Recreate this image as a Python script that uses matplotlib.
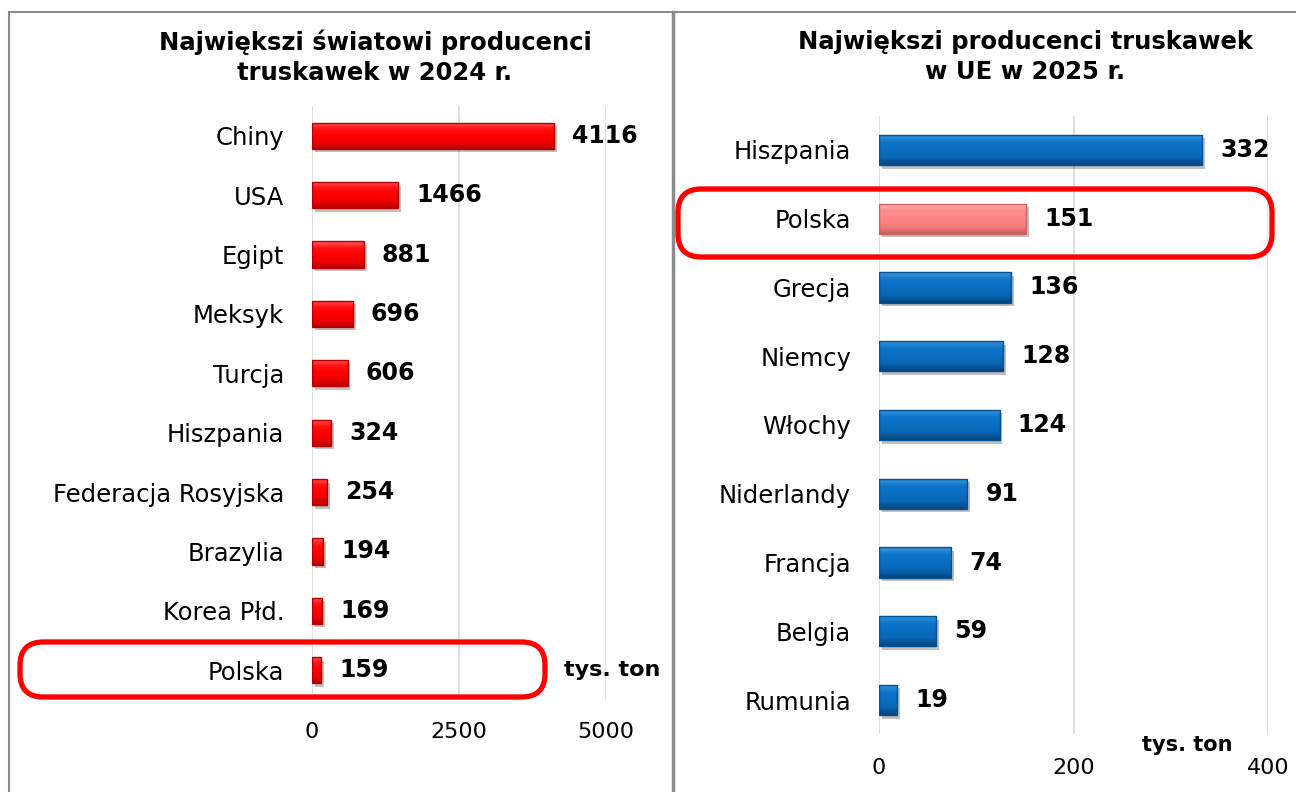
import matplotlib
matplotlib.use("Agg")
import matplotlib.pyplot as plt
import matplotlib.patheffects as pe
import numpy as np
from matplotlib.patches import FancyBboxPatch
from matplotlib.lines import Line2D
from matplotlib.colors import LinearSegmentedColormap

plt.rcParams['font.family'] = ['DejaVu Sans']

# dane - swiat 2024
kraje_swiat = ['Chiny', 'USA', 'Egipt', 'Meksyk', 'Turcja', 'Hiszpania',
               'Federacja Rosyjska', 'Brazylia', 'Korea Płd.', 'Polska']
prod_swiat = [4116, 1466, 881, 696, 606, 324, 254, 194, 169, 159]
ticks_swiat = [0, 2500, 5000]

# dane - UE 2025
kraje_ue = ['Hiszpania', 'Polska', 'Grecja', 'Niemcy', 'Włochy',
            'Niderlandy', 'Francja', 'Belgia', 'Rumunia']
prod_ue = [332, 151, 136, 128, 124, 91, 74, 59, 19]
ticks_ue = [0, 200, 400]

W, H = 1296, 792
fig = plt.figure(figsize=(W / 100, H / 100), dpi=100)

def px(x, y):
    # piksele -> ulamek figury
    return x / W, 1 - y / H

tick_font = ['Liberation Sans Narrow', 'DejaVu Sans']

# gradienty (gora jasniej, dol ciemniej)
cm_red = LinearSegmentedColormap.from_list(
    'r', ['#ff5a5a', '#ff1010', '#ff0000', '#f00000', '#b80000'])
cm_blue = LinearSegmentedColormap.from_list(
    'b', ['#3d95dc', '#0d74c8', '#0a6fc2', '#0866b4', '#04457f'])
cm_pink = LinearSegmentedColormap.from_list(
    'p', ['#ffb0b0', '#ff8c8c', '#ff8585', '#f57c7c', '#c86060'])
grad = np.linspace(0, 1, 64).reshape(-1, 1)

def rysuj(ax, kraje, wart, ticks, cmaps, brzegi, xmax, pad_x):
    y = list(range(len(kraje)))
    shadow = [pe.SimplePatchShadow(offset=(2, -2.5), alpha=0.35), pe.Normal()]
    bars = ax.barh(y, wart, height=0.44, color='none', edgecolor=brzegi,
                   linewidth=1.0, zorder=4)
    for bar, cmap in zip(bars, cmaps):
        x0, y0 = bar.get_x(), bar.get_y()
        w, h = bar.get_width(), bar.get_height()
        # cien pod slupkiem
        sh = ax.barh(y0 + h / 2, w, height=h, color='white', linewidth=0,
                     zorder=2)[0]
        sh.set_path_effects(shadow)
        im = ax.imshow(grad, cmap=cmap, aspect='auto', zorder=3,
                       extent=(x0, x0 + w, y0 + h, y0), interpolation='bicubic')
        im.set_clip_path(bar)
    for i, v in enumerate(wart):
        ax.annotate(str(v), (v, i), xytext=(13, 0), textcoords='offset points',
                    va='center', ha='left', fontsize=17, fontweight='bold',
                    color='black', zorder=5)
    ax.set_yticks(y)
    ax.set_yticklabels(kraje, fontsize=17.5)
    ax.set_xticks(ticks)
    ax.set_xticklabels([str(t) for t in ticks], fontsize=16, family=tick_font)
    ax.set_xlim(0, xmax)
    ax.set_ylim(len(kraje) - 0.5, -0.5)
    ax.set_aspect('auto')
    ax.tick_params(axis='y', length=0, pad=20)
    ax.tick_params(axis='x', length=0, pad=pad_x)
    ax.grid(axis='x', color='#d9d9d9', linewidth=1.2, zorder=0)
    ax.set_axisbelow(True)
    for s in ax.spines.values():
        s.set_visible(False)

# lewy wykres
l, t = px(312, 106)
r, b = px(606, 700)
ax1 = fig.add_axes([l, b, r - l, t - b])
rysuj(ax1, kraje_swiat, prod_swiat, ticks_swiat, [cm_red] * len(kraje_swiat),
      '#b00000', 5000, 16)

# prawy wykres
l, t = px(879, 115.6)
r, b = px(1268, 734.4)
ax2 = fig.add_axes([l, b, r - l, t - b])
cm_ue = [cm_pink if k == 'Polska' else cm_blue for k in kraje_ue]
brz_ue = ['#c86464' if k == 'Polska' else '#05508f' for k in kraje_ue]
rysuj(ax2, kraje_ue, prod_ue, ticks_ue, cm_ue, brz_ue, 400, 17)

# tytuly
x, y = px(375, 57)
fig.text(x, y, 'Największi światowi producenci\ntruskawek w 2024 r.',
         ha='center', va='center', fontsize=17.5, fontweight='bold',
         linespacing=1.3)
x, y = px(1025, 57)
fig.text(x, y, 'Największi producenci truskawek\nw UE w 2025 r.',
         ha='center', va='center', fontsize=17.5, fontweight='bold',
         linespacing=1.3)

# jednostki
x, y = px(612, 670)
fig.text(x, y, 'tys. ton', ha='center', va='center', fontsize=16,
         fontweight='bold', family=tick_font)
x, y = px(1187, 745)
fig.text(x, y, 'tys. ton', ha='center', va='center', fontsize=15,
         fontweight='bold')

# czerwone ramki wokol Polski
for (x0, y0, x1, y1) in [(20, 642, 545, 697), (678, 189, 1272, 257)]:
    a, b0 = px(x0, y1)
    c, d = px(x1, y0)
    box = FancyBboxPatch((a, b0), c - a, d - b0, transform=fig.transFigure,
                         boxstyle='round,pad=0,rounding_size=0.018',
                         fill=False, edgecolor='#ff0000', linewidth=3.8,
                         zorder=10, mutation_aspect=W / H)
    fig.patches.append(box)

# szare obramowanie paneli
szary = '#8c8c8c'
fig.add_artist(Line2D([9 / W, 9 / W], [0, 1 - 12 / H], color=szary, lw=1.5,
                      transform=fig.transFigure))
fig.add_artist(Line2D([9 / W, 1], [1 - 12 / H, 1 - 12 / H], color=szary,
                      lw=1.5, transform=fig.transFigure))
fig.add_artist(Line2D([673 / W, 673 / W], [0, 1 - 12 / H], color=szary,
                      lw=2.5, transform=fig.transFigure))

fig.savefig('out.png', dpi=100)
